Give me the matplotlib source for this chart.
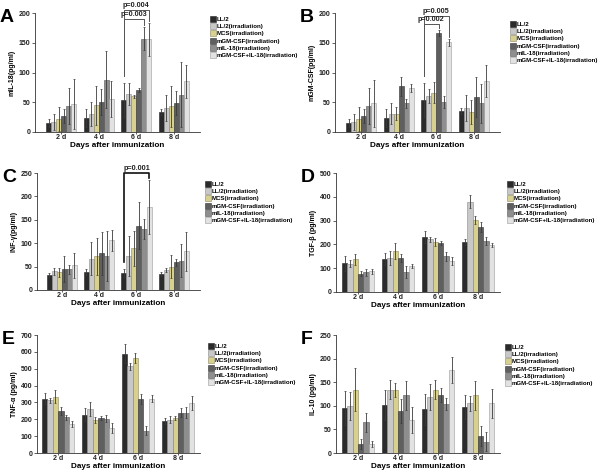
import numpy as np
import matplotlib
matplotlib.use("Agg")
import matplotlib.pyplot as plt
from matplotlib.patches import Patch

plt.rcParams["font.family"] = ["Liberation Sans", "DejaVu Sans"]
plt.rcParams["font.weight"] = "bold"

days = ["2 d", "4 d", "6 d", "8 d"]
groups = ["LL/2", "LL/2(irradiation)", "MCS(irradiation)", "mGM-CSF(irradiation)",
          "mIL-18(irradiation)", "mGM-CSF+IL-18(irradiation)"]
colors = ["#2b2b2b", "#c8c8c8", "#d8d08e", "#5f5f5f", "#8e8e8e", "#e2e2e2"]
edges = ["#222222", "#8a8a8a", "#8a8560", "#333333", "#555555", "#9a9a9a"]

# rows = days, columns = groups
il18_vals = [[15, 17, 22, 27, 44, 47], [24, 30, 45, 51, 88, 56],
             [54, 64, 60, 71, 157, 156], [34, 40, 43, 49, 63, 85]]
il18_err = [[7, 13, 20, 12, 30, 42], [15, 20, 33, 22, 48, 30],
            [28, 19, 3, 3, 20, 28], [5, 22, 35, 20, 55, 28]]

gmcsf_vals = [[15, 17, 22, 27, 44, 48], [24, 31, 31, 77, 48, 74],
              [54, 60, 66, 167, 51, 151], [35, 40, 33, 59, 48, 85]]
gmcsf_err = [[7, 14, 20, 12, 30, 40], [15, 18, 11, 16, 8, 6],
             [28, 12, 18, 5, 10, 6], [5, 22, 20, 33, 33, 27]]

ifng_vals = [[32, 40, 38, 45, 44, 53], [38, 67, 72, 78, 73, 106],
             [36, 72, 89, 137, 130, 178], [34, 42, 50, 59, 63, 83]]
ifng_err = [[4, 8, 10, 27, 10, 27], [6, 35, 40, 45, 53, 22],
            [8, 43, 38, 50, 22, 58], [4, 4, 25, 8, 35, 42]]

tgfb_vals = [[120, 118, 137, 77, 82, 87], [137, 142, 172, 143, 85, 110],
             [230, 222, 210, 206, 150, 130], [210, 380, 303, 274, 214, 197]]
tgfb_err = [[30, 15, 22, 10, 14, 10], [25, 30, 35, 18, 25, 8],
            [25, 10, 15, 10, 20, 15], [12, 28, 18, 20, 18, 10]]

tnfa_vals = [[323, 313, 335, 248, 212, 172], [228, 262, 197, 208, 203, 148],
             [590, 515, 566, 322, 132, 322], [190, 198, 208, 240, 240, 298]]
tnfa_err = [[30, 15, 40, 25, 15, 18], [40, 40, 18, 10, 20, 30],
            [55, 20, 30, 30, 28, 22], [15, 22, 10, 28, 30, 40]]

il10_vals = [[96, 100, 134, 19, 65, 19], [102, 134, 134, 89, 122, 70],
             [93, 119, 134, 122, 104, 176], [98, 105, 122, 36, 24, 105]]
il10_err = [[36, 30, 46, 10, 20, 7], [32, 20, 15, 26, 30, 27],
            [33, 28, 20, 15, 12, 28], [25, 15, 30, 22, 20, 30]]

W, H = 600, 470
fig = plt.figure(figsize=(6.0, 4.7), dpi=100)
bw = 0.135


def px_axes(left, zero_y, top_y, right):
    return fig.add_axes([left / W, (H - zero_y) / H, (right - left) / W, (zero_y - top_y) / H])


def draw_panel(ax, vals, errs, ymax, ystep, ylabel, xlim, letter, leg_xy):
    vals = np.array(vals)
    errs = np.array(errs)
    x = np.arange(len(days))
    for j in range(len(groups)):
        ax.bar(x + (j - 2.5) * bw, vals[:, j], bw, yerr=errs[:, j], color=colors[j],
               edgecolor=edges[j], linewidth=0.4, label=groups[j],
               error_kw=dict(ecolor="#3a3a3a", elinewidth=0.6, capsize=1.0, capthick=0.5))
    ax.set_xlim(*xlim)
    ax.set_ylim(0, ymax)
    ax.set_yticks(np.arange(0, ymax + 1, ystep))
    ax.set_xticks(x)
    ax.set_xticklabels(days)
    ax.tick_params(axis="y", labelsize=5.0, length=2, width=0.5, pad=1.5, colors="#222222")
    ax.tick_params(axis="x", labelsize=5.0, length=1.2, width=0.5, pad=0.3, colors="#222222")
    for s in ["top", "right"]:
        ax.spines[s].set_visible(False)
    for s in ["left", "bottom"]:
        ax.spines[s].set_linewidth(0.6)
        ax.spines[s].set_color("#333333")
    ax.set_ylabel(ylabel, fontsize=5.0, fontweight="bold", labelpad=2)
    ax.set_xlabel("Days after immunization", fontsize=5.9, fontweight="bold", labelpad=0.5)
    pos = ax.get_position()
    fig.text(pos.x0 - 35 / W, pos.y1 + 4 / H, letter, fontsize=14, fontweight="bold",
             ha="left", va="top")
    handles = [Patch(facecolor=colors[j], edgecolor=edges[j], linewidth=0.4) for j in range(len(groups))]
    fig.legend(handles, groups, loc="upper left", bbox_to_anchor=(leg_xy[0] / W, 1 - leg_xy[1] / H),
               frameon=False, fontsize=4.4, handlelength=1.0, handleheight=1.1,
               handletextpad=0.1, labelspacing=0.2, borderpad=0, borderaxespad=0)
    return x


def bracket(ax, x, vals, errs, day, left_g, right_g, y_line, label, lw=0.7, color="#555555"):
    vals = np.array(vals)
    errs = np.array(errs)
    xl = x[day] + (left_g - 2.5) * bw
    xr = x[day] + (right_g - 2.5) * bw
    yl = vals[day, left_g] + errs[day, left_g] + ax.get_ylim()[1] * 0.06
    yr = vals[day, right_g] + errs[day, right_g] + ax.get_ylim()[1] * 0.01
    ax.plot([xl, xl, xr, xr], [yl, y_line, y_line, yr], color=color, lw=lw, clip_on=False)
    ax.text((xl + xr) / 2, y_line + ax.get_ylim()[1] * 0.012, label, fontsize=5.2,
            fontweight="bold", ha="center", va="bottom", color="#222222")


# A
axA = px_axes(35, 132, 13, 200)
xA = draw_panel(axA, il18_vals, il18_err, 200, 50, "mIL-18(pg/ml)", (-0.7, 3.7), "A", (210, 16))
bracket(axA, xA, il18_vals, il18_err, 2, 0, 5, 205, "p=0.004")
bracket(axA, xA, il18_vals, il18_err, 2, 0, 4, 190, "p=0.003")

# B
axB = px_axes(335, 132, 13, 500)
xB = draw_panel(axB, gmcsf_vals, gmcsf_err, 200, 50, "mGM-CSF(pg/ml)", (-0.7, 3.7), "B", (510, 21))
bracket(axB, xB, gmcsf_vals, gmcsf_err, 2, 0, 5, 195, "p=0.005")
bracket(axB, xB, gmcsf_vals, gmcsf_err, 2, 0, 3, 181, "p=0.002")

# C
axC = px_axes(37, 290, 173, 200)
xC = draw_panel(axC, ifng_vals, ifng_err, 250, 50, "INF-γ(pg/ml)", (-0.66, 3.7), "C", (205, 181))
bracket(axC, xC, ifng_vals, ifng_err, 2, 0, 5, 250, "p=0.001", lw=1.2, color="#111111")

# D
axD = px_axes(336, 292, 173, 500)
draw_panel(axD, tgfb_vals, tgfb_err, 500, 100, "TGF-β (pg/ml)", (-0.55, 3.55), "D", (507, 181))

# E
axE = px_axes(37, 453, 335, 200)
draw_panel(axE, tnfa_vals, tnfa_err, 700, 100, "TNF-α (pg/ml)", (-0.53, 3.55), "E", (208, 343))

# F
axF = px_axes(336, 453, 335, 500)
draw_panel(axF, il10_vals, il10_err, 250, 50, "IL-10 (pg/ml)", (-0.55, 3.55), "F", (505, 344))

fig.savefig("out.png", dpi=100)
